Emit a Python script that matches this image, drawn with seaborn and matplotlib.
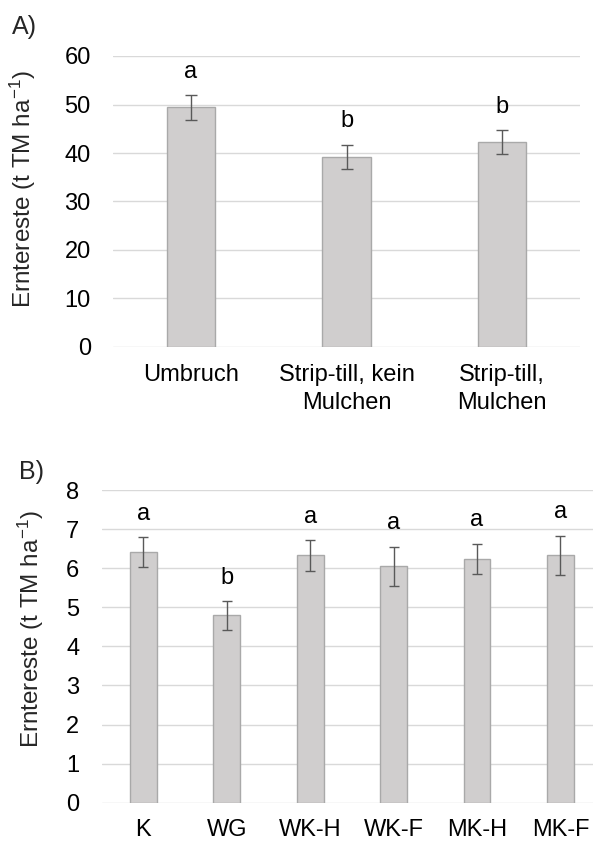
import matplotlib
matplotlib.use("Agg")
import matplotlib.pyplot as plt
import seaborn as sns
import numpy as np

# ---- data ----
cats_a = ["Umbruch", "Strip-till, kein\nMulchen", "Strip-till,\nMulchen"]
vals_a = [49.4, 39.2, 42.2]
errs_a = [2.5, 2.5, 2.5]
letters_a = ["a", "b", "b"]

cats_b = ["K", "WG", "WK-H", "WK-F", "MK-H", "MK-F"]
vals_b = [6.41, 4.79, 6.33, 6.05, 6.24, 6.33]
errs_b = [0.38, 0.37, 0.39, 0.50, 0.38, 0.50]
letters_b = ["a", "b", "a", "a", "a", "a"]

ylabel = "Erntereste (t TM ha$^{\\mathregular{-1}}$)"

sns.set_theme(style="white")
plt.rcParams["font.family"] = ["Liberation Sans", "DejaVu Sans"]
plt.rcParams["mathtext.fontset"] = "custom"
plt.rcParams["mathtext.rm"] = "Liberation Sans"
plt.rcParams["mathtext.it"] = "Liberation Sans:italic"
plt.rcParams["mathtext.bf"] = "Liberation Sans:bold"

W, H = 598, 842
fig = plt.figure(figsize=(W / 100, H / 100), dpi=100)

BAR = "#d0cece"
EDGE = "#a9a9a9"
GRID = "#d9d9d9"
ERR = "#595959"
FS = 17


def panel(rect, cats, vals, errs, letters, ylim, yticks, xlim, width, capsize):
    ax = fig.add_axes(rect)
    sns.barplot(x=cats, y=vals, color=BAR, saturation=1, width=width,
                edgecolor=EDGE, linewidth=1, ax=ax, zorder=2)
    ax.errorbar(np.arange(len(vals)), vals, yerr=errs, fmt="none",
                ecolor=ERR, elinewidth=1, capsize=capsize, capthick=1, zorder=3)
    for i, (v, e, l) in enumerate(zip(vals, errs, letters)):
        ax.annotate(l, (i, v + e), xytext=(0, 9), textcoords="offset points",
                    ha="center", va="bottom", fontsize=FS, color="black")
    ax.set_ylim(*ylim)
    ax.set_yticks(yticks)
    ax.set_xlim(*xlim)
    ax.grid(axis="y", color=GRID, linewidth=1)
    ax.set_axisbelow(True)
    for s in ax.spines.values():
        s.set_visible(False)
    ax.tick_params(axis="both", length=0, labelsize=FS, colors="black")
    ax.tick_params(axis="y", pad=16)
    ax.tick_params(axis="x", pad=12)
    ax.set_ylabel("")
    ax.set_xlabel("")
    return ax


axA = panel([113 / W, 1 - 347 / H, (580 - 113) / W, (347 - 56) / H],
            cats_a, vals_a, errs_a, letters_a, (0, 60), range(0, 61, 10),
            (-0.5, 2.5), 0.31, 4.5)
for t in axA.get_xticklabels():
    t.set_linespacing(1.35)

axB = panel([101.7 / W, 1 - 802.7 / H, (593 - 101.7) / W, (802.7 - 490) / H],
            cats_b, vals_b, errs_b, letters_b, (0, 8), range(0, 9, 1),
            (-0.5, 5.39), 0.32, 3.8)

fig.text(23 / W, 1 - 189 / H, ylabel, rotation=90, ha="center", va="center", fontsize=17.5)
fig.text(31 / W, 1 - 629 / H, ylabel, rotation=90, ha="center", va="center", fontsize=17.5)
fig.text(12 / W, 1 - 15 / H, "A)", ha="left", va="top", fontsize=18)
fig.text(19 / W, 1 - 460 / H, "B)", ha="left", va="top", fontsize=18)

fig.savefig("out.png", dpi=100)
